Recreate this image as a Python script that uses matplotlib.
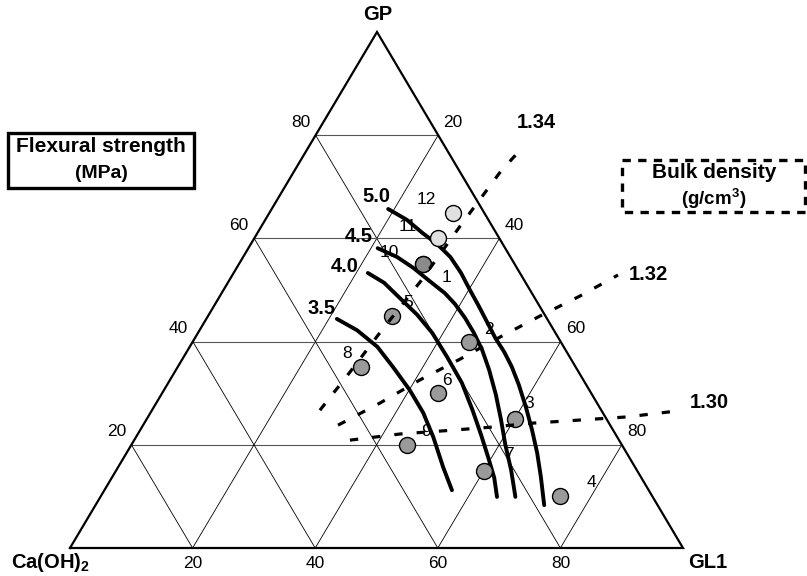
import numpy as np
import matplotlib
matplotlib.use("Agg")
import matplotlib.pyplot as plt
from matplotlib.patches import Rectangle

plt.rcParams['font.family'] = ['Liberation Sans', 'DejaVu Sans']

# compositions in percent: (GL1, GP), Ca(OH)2 is the rest
sample_ids = ['1', '2', '3', '4', '5', '6', '7', '8', '9', '10', '11', '12']
sample_gl1 = [30, 45, 60, 75, 30, 45, 60, 30, 45, 30, 30, 30]
sample_gp = [55, 40, 25, 10, 45, 30, 15, 35, 20, 55, 60, 65]
sample_face = ['#9a9a9a'] * 9 + ['#8a8a8a', '#e0e0e0', '#e0e0e0']

# flexural strength contours (MPa)
strength_levels = ['3.5', '4.0', '4.5', '5.0']
strength_gl1 = [
    [21.3, 25.7, 30.6, 35.1, 40.1, 44.5, 48.5, 53.0, 56.7],
    [21.9, 25.5, 29.6, 34.0, 38.2, 43.0, 47.9, 52.3, 56.1, 59.4, 62.4, 64.7],
    [21.1, 25.1, 28.8, 32.8, 36.4, 39.1, 42.1, 45.0, 48.0, 51.1, 54.6, 57.9,
     61.0, 64.4, 67.7],
    [19.0, 23.1, 27.0, 30.4, 33.8, 37.1, 40.2, 43.0, 46.1, 49.0, 51.8, 54.5,
     57.4, 60.7, 63.9, 67.0, 69.9, 73.2],
]
strength_gp = [
    [44.4, 42.2, 39.0, 35.1, 30.6, 26.2, 21.5, 15.7, 11.2],
    [53.3, 51.4, 48.4, 45.2, 41.7, 37.0, 32.0, 26.7, 21.9, 17.6, 13.6, 9.9],
    [58.1, 56.4, 54.3, 51.7, 49.4, 47.3, 44.6, 41.7, 38.4, 34.5, 29.7, 24.8,
     20.0, 15.1, 9.9],
    [65.7, 63.6, 61.0, 58.9, 56.4, 53.3, 50.0, 47.1, 43.8, 40.7, 38.0, 35.1,
     31.6, 27.3, 22.9, 18.4, 13.8, 8.3],
]

# bulk density contours (g/cm3)
density_levels = ['1.34', '1.32', '1.30']
density_gl1 = [
    [27.4, 28.6, 29.6, 31.3, 32.4, 33.7, 34.8],
    [31.8, 36.5, 40.8, 45.3, 49.7, 54.2, 58.7, 62.9],
    [35.2, 42.8, 49.5, 56.8, 63.4, 70.8, 78.1, 84.7],
]
density_gp = [
    [26.7, 34.1, 41.3, 51.6, 62.4, 72.9, 77.1],
    [23.8, 28.1, 32.6, 36.6, 40.9, 45.0, 48.8, 52.9],
    [20.9, 22.1, 22.7, 23.4, 24.2, 24.8, 25.4, 26.4],
]

grid_ticks = [20, 40, 60, 80]

# triangle corners in figure pixels: Ca(OH)2, GL1, GP
A = np.array([70.0, 548.0])
B = np.array([683.0, 548.0])
C = np.array([377.0, 32.0])


def tern(gl, gp):
    gl = np.asarray(gl, dtype=float) / 100.0
    gp = np.asarray(gp, dtype=float) / 100.0
    ca = 1.0 - gl - gp
    x = ca * A[0] + gl * B[0] + gp * C[0]
    y = ca * A[1] + gl * B[1] + gp * C[1]
    return x, y


fig = plt.figure(figsize=(8.07, 5.76), dpi=100)
ax = fig.add_axes([0, 0, 1, 1])
ax.set_xlim(0, 807)
ax.set_ylim(576, 0)
ax.axis('off')

num_size = 12.5
bold_size = 14.5

# grid
for t in grid_ticks:
    # constant GP
    x, y = tern([0, 100 - t], [t, t])
    ax.plot(x, y, color='#555555', lw=0.8, zorder=1)
    # constant GL1
    x, y = tern([t, t], [0, 100 - t])
    ax.plot(x, y, color='black', lw=0.6, zorder=1)
    # constant Ca(OH)2
    x, y = tern([100 - t, 0], [0, 100 - t])
    ax.plot(x, y, color='black', lw=0.6, zorder=1)

x, y = tern([0, 100, 0, 0], [0, 0, 100, 0])
ax.plot(x, y, color='black', lw=1.6, zorder=2, solid_joinstyle='miter')

# axis numbers
for t in grid_ticks:
    x, y = tern([t], [0])
    ax.text(x[0], y[0] + 16, str(t), ha='center', va='center', fontsize=num_size)
    x, y = tern([0], [t])
    ax.text(x[0] - 15, y[0] - 13, str(t), ha='center', va='center',
            fontsize=num_size)
    x, y = tern([100 - t], [t])
    ax.text(x[0] + 15, y[0] - 13, str(100 - t), ha='center', va='center',
            fontsize=num_size)

ax.text(50, 563, 'Ca(OH)$_\\mathregular{2}$', ha='center', va='center',
        fontsize=bold_size, fontweight='bold')
ax.text(708, 562, 'GL1', ha='center', va='center', fontsize=bold_size,
        fontweight='bold')
ax.text(378, 15, 'GP', ha='center', va='center', fontsize=bold_size,
        fontweight='bold')

# sample points and their numbers
label_off = {'1': (24, 13), '2': (20, -12), '3': (15, -15), '4': (31, -14),
             '5': (16, -13), '6': (9, -13), '7': (25, -16), '8': (-14, -14),
             '9': (19, -13), '10': (-33, -12), '11': (-30, -12), '12': (-27, -13)}
px, py = tern(sample_gl1, sample_gp)
for i, sid in enumerate(sample_ids):
    ax.plot(px[i], py[i], 'o', ms=11.5, mfc=sample_face[i], mec='black',
            mew=1.0, zorder=5)
    dx, dy = label_off[sid]
    ax.text(px[i] + dx, py[i] + dy, sid, ha='center', va='center',
            fontsize=num_size, zorder=3)

# flexural strength curves
strength_lab = [(322, 308), (345, 266), (359, 236), (376, 197)]
for k, lev in enumerate(strength_levels):
    x, y = tern(strength_gl1[k], strength_gp[k])
    ax.plot(x, y, color='black', lw=2.8, solid_capstyle='round', zorder=4)
    ax.text(strength_lab[k][0], strength_lab[k][1], lev, ha='center',
            va='center', fontsize=bold_size, fontweight='bold')

# bulk density curves
density_lab = [(536, 122), (648, 275), (709, 403)]
for k, lev in enumerate(density_levels):
    x, y = tern(density_gl1[k], density_gp[k])
    ax.plot(x, y, color='black', lw=2.3, dashes=(2.6, 4.4), zorder=6)
    ax.text(density_lab[k][0], density_lab[k][1], lev, ha='center',
            va='center', fontsize=bold_size, fontweight='bold')

# legend boxes
ax.add_patch(Rectangle((8, 133), 186, 55, fill=False, ec='black', lw=2.4))
ax.text(101, 147, 'Flexural strength', ha='center', va='center',
        fontsize=15, fontweight='bold')
ax.text(101, 174, '(MPa)', ha='center', va='center', fontsize=14,
        fontweight='bold')

ax.add_patch(Rectangle((622, 160), 183, 52, fill=False, ec='black', lw=2.4,
                       ls=(0, (2.5, 2.2))))
ax.text(714, 172, 'Bulk density', ha='center', va='center', fontsize=15,
        fontweight='bold')
ax.text(714, 199, '(g/cm$^\\mathregular{3}$)', ha='center', va='center',
        fontsize=13.5, fontweight='bold')

fig.savefig('out.png', dpi=100)
